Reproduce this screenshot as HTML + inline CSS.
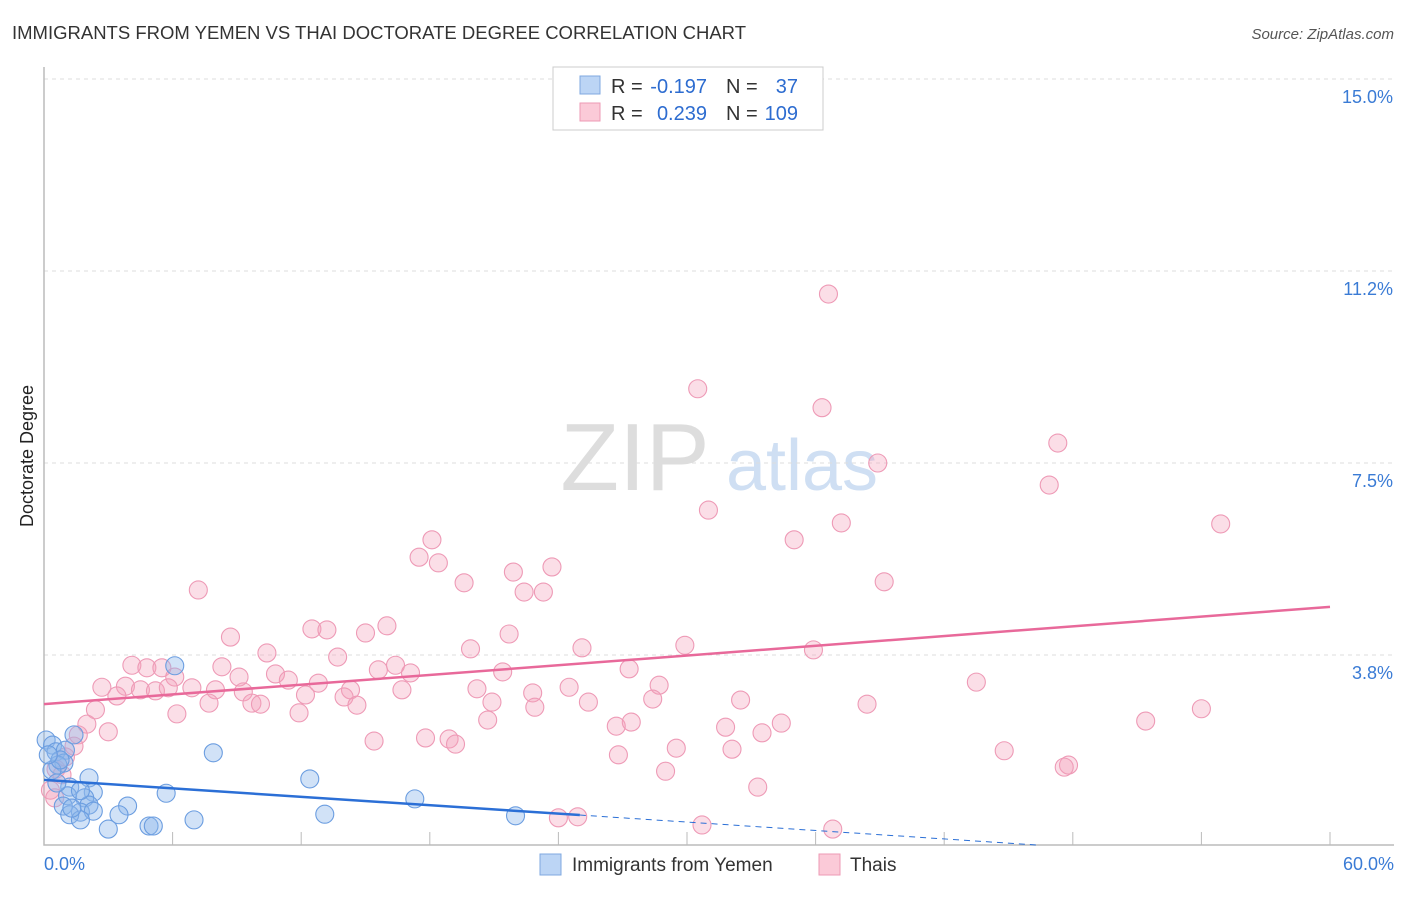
<!DOCTYPE html>
<html><head><meta charset="utf-8"><style>
body{margin:0;background:#fff;font-family:"Liberation Sans",sans-serif;}
svg text{font-family:"Liberation Sans",sans-serif;}
</style></head><body>
<svg id="chart" width="1406" height="892" viewBox="0 0 1406 892">
<text x="12" y="39" font-size="18" fill="#333" textLength="734" lengthAdjust="spacingAndGlyphs">IMMIGRANTS FROM YEMEN VS THAI DOCTORATE DEGREE CORRELATION CHART</text>
<text x="1394" y="39" font-size="15" fill="#555" font-style="italic" text-anchor="end">Source: ZipAtlas.com</text>
<text x="33" y="456" font-size="18" fill="#222" text-anchor="middle" transform="rotate(-90 33 456)">Doctorate Degree</text>
<g><text x="635" y="490" font-size="96" fill="#ddd" font-family="Liberation Serif" text-anchor="middle">ZIP</text><text x="802" y="490" font-size="72" fill="#cfdff3" text-anchor="middle">atlas</text></g>
<g id="grid"></g><g id="marks"></g>
<g>
<rect x="553" y="67" width="270" height="63" fill="#fff" stroke="#ccc"/>
<rect x="580" y="76" width="20" height="18" fill="#bcd5f5" stroke="#7fa8e0"/>
<rect x="580" y="103" width="20" height="18" fill="#fbcad8" stroke="#ee9ab4"/>
<text x="611" y="93" font-size="20" fill="#333">R =</text>
<text x="707" y="93" font-size="20" fill="#2d6cd0" text-anchor="end">-0.197</text>
<text x="726" y="93" font-size="20" fill="#333">N =</text>
<text x="798" y="93" font-size="20" fill="#2d6cd0" text-anchor="end">37</text>
<text x="611" y="120" font-size="20" fill="#333">R =</text>
<text x="707" y="120" font-size="20" fill="#2d6cd0" text-anchor="end">0.239</text>
<text x="726" y="120" font-size="20" fill="#333">N =</text>
<text x="798" y="120" font-size="20" fill="#2d6cd0" text-anchor="end">109</text>
</g>
<g>
<rect x="540" y="854" width="21" height="21" fill="#bcd5f5" stroke="#7fa8e0"/>
<text x="572" y="871" font-size="19" fill="#333">Immigrants from Yemen</text>
<rect x="819" y="854" width="21" height="21" fill="#fbcad8" stroke="#ee9ab4"/>
<text x="850" y="871" font-size="19" fill="#333">Thais</text>
</g>
<text x="44" y="870" font-size="18" fill="#3a7bd5">0.0%</text>
<text x="1394" y="870" font-size="18" fill="#3a7bd5" text-anchor="end">60.0%</text>
</svg>
<script>
const yTicks=[3.75,7.5,11.25,15];
const yTickLabels=["3.8%","7.5%","11.2%","15.0%"];
const xTicks=[6,12,18,24,30,36,42,48,54,60];
const thaiX=[36.6,30.5,36.3,47.3,38.9,46.9,31.0,37.2,54.9,18.1,35.0,17.5,18.4,23.7,21.9,19.6,39.2,7.2,22.4,23.3,16.0,12.5,13.2,15.0,21.7,8.7,29.9,19.9,25.1,10.4,35.9,13.7,4.1,4.8,5.5,8.3,16.4,15.6,17.1,21.4,27.3,6.1,9.1,10.8,11.4,12.8,43.5,28.7,2.7,3.8,4.5,5.2,5.8,6.9,8.0,3.4,9.3,14.3,16.7,20.2,24.5,14.0,12.2,22.8,7.7,9.7,10.1,14.6,20.9,22.9,25.4,28.4,32.5,38.4,2.4,6.2,11.9,54.0,2.0,20.7,26.7,27.4,31.8,34.4,51.4,3.0,1.6,17.8,18.9,19.2,15.4,33.5,1.4,29.5,32.1,44.8,26.8,1.0,47.8,47.6,0.56,0.84,29.0,33.3,0.3,24.9,24.0,30.7,36.8,0.5];
const thaiY=[10.8,8.95,8.58,7.89,7.5,7.07,6.58,6.33,6.31,6.0,6.0,5.66,5.55,5.47,5.37,5.16,5.18,5.02,4.98,4.98,4.32,4.26,4.24,4.18,4.16,4.10,3.94,3.87,3.89,3.79,3.85,3.71,3.55,3.5,3.5,3.52,3.55,3.46,3.4,3.42,3.48,3.32,3.32,3.38,3.26,3.2,3.22,3.16,3.12,3.14,3.07,3.05,3.11,3.11,3.07,2.95,3.03,3.07,3.07,3.09,3.12,2.93,2.97,3.01,2.81,2.81,2.79,2.77,2.83,2.73,2.83,2.89,2.87,2.79,2.68,2.6,2.62,2.7,2.4,2.48,2.36,2.44,2.34,2.42,2.46,2.25,2.19,2.13,2.11,2.01,2.07,2.23,1.97,1.93,1.91,1.88,1.8,1.76,1.6,1.56,1.52,1.41,1.48,1.17,1.11,0.59,0.57,0.43,0.35,0.96];
const yemenX=[6.1,7.9,12.4,0.1,0.4,0.56,1.0,1.4,0.93,0.65,0.37,2.1,1.2,2.3,5.7,17.3,1.1,1.9,2.1,3.9,0.9,1.7,2.3,1.2,3.5,13.1,22.0,1.7,7.0,3.0,4.9,5.1,0.6,1.7,0.75,1.3,0.2];
const yemenY=[3.54,1.84,1.33,2.09,1.99,1.86,1.89,2.19,1.64,1.6,1.5,1.35,1.17,1.07,1.05,0.94,1.0,0.96,0.82,0.8,0.8,0.68,0.7,0.63,0.63,0.64,0.61,0.53,0.53,0.35,0.41,0.41,1.25,1.1,1.7,0.76,1.8];
const thaiTrend=[2.79,4.69];
const yemenTrend=[1.31,-0.02744];
const NS='http://www.w3.org/2000/svg';
const X=v=>44+v*(1286/60), Y=v=>847-v*51.2;
function mk(tag,attrs,parent){const e=document.createElementNS(NS,tag);for(const k in attrs)e.setAttribute(k,attrs[k]);parent.appendChild(e);return e;}
const grid=document.getElementById('grid'),marks=document.getElementById('marks'),svg=document.getElementById('chart');
yTicks.forEach((t,i)=>{
 const l=mk('line',{x1:44,x2:1394,y1:Y(t),y2:Y(t),stroke:'#ddd','stroke-dasharray':'4,4'},grid);
 
 
 const tx=mk('text',{x:1393,y:Y(t)+24,'font-size':18,fill:'#3a7bd5','text-anchor':'end'},svg);
 tx.textContent=yTickLabels[i];
 
 
});
const ax=mk('path',{d:'M44 67 V845 H1394',fill:'none',stroke:'#bbb','stroke-width':1.5},grid);


xTicks.forEach(t=>{
 const l=mk('line',{x1:X(t),x2:X(t),y1:832,y2:845,stroke:'#bbb'},grid);
 
 
});
thaiX.forEach((v,i)=>{
 const c=mk('circle',{cx:X(v),cy:Y(thaiY[i]),r:9,fill:'rgba(244,160,186,0.35)',stroke:'#ee9ab6','stroke-width':1.1},marks);
 
 
});
yemenX.forEach((v,i)=>{
 const c=mk('circle',{cx:X(v),cy:Y(yemenY[i]),r:9,fill:'rgba(140,182,236,0.4)',stroke:'#6b9de0','stroke-width':1.1},marks);
 
 
});
const tl=mk('line',{x1:X(0),y1:Y(thaiTrend[0]),x2:X(60),y2:Y(thaiTrend[1]),stroke:'#e8699a','stroke-width':2.5},marks);


const ye=x=>yemenTrend[0]+yemenTrend[1]*x;
const bl=mk('line',{x1:X(0),y1:Y(ye(0)),x2:X(25),y2:Y(ye(25)),stroke:'#2b6fd6','stroke-width':2.5},marks);


const bd=mk('line',{x1:X(25),y1:Y(ye(25)),x2:X(46.5),y2:Y(ye(46.5)),stroke:'#2b6fd6','stroke-width':1,'stroke-dasharray':'6,5'},marks);


</script>
</body></html>
